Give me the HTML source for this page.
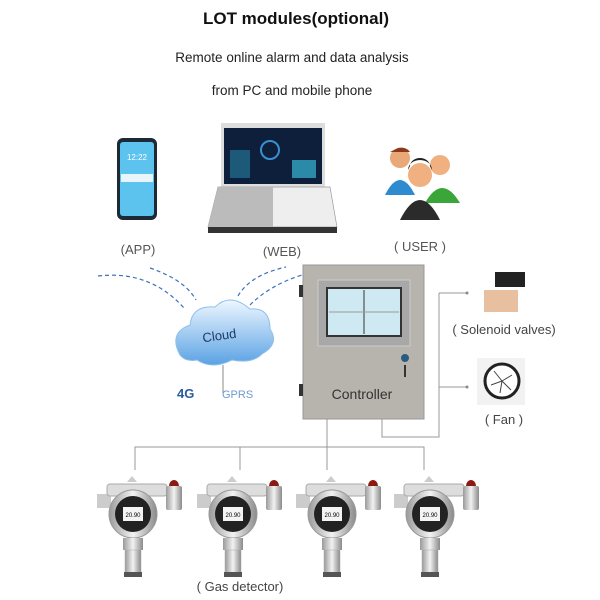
<!DOCTYPE html>
<html><head><meta charset="utf-8"><style>
body{margin:0;background:#fff}
svg{display:block;font-family:"Liberation Sans",sans-serif}
</style></head><body>
<svg width="600" height="600" viewBox="0 0 600 600">
<defs>
<linearGradient id="cl" x1="0" y1="0" x2="0" y2="1"><stop offset="0" stop-color="#eef7ff"/><stop offset="1" stop-color="#5aa2e4"/></linearGradient>
<linearGradient id="met" x1="0" y1="0" x2="1" y2="0"><stop offset="0" stop-color="#9a9a9a"/><stop offset=".5" stop-color="#f2f2f2"/><stop offset="1" stop-color="#8a8a8a"/></linearGradient>
<g id="det">
<rect x="0" y="22" width="14" height="14" fill="#ccc"/>
<path d="M30 10 l5 -6 l5 6z" fill="#ccc"/>
<rect x="10" y="12" width="60" height="12" rx="3" fill="#ddd" stroke="#aaa"/>
<rect x="69" y="14" width="16" height="24" rx="2" fill="url(#met)"/>
<path d="M72 14 a5 6 0 0 1 10 0z" fill="#8b1a12"/>
<circle cx="36" cy="42" r="24" fill="url(#met)" stroke="#999"/>
<circle cx="36" cy="42" r="18" fill="#222"/>
<rect x="26" y="35" width="20" height="14" fill="#f4f4f4"/>
<text x="36" y="45" font-size="6" text-anchor="middle" fill="#000">20.90</text>
<rect x="26" y="66" width="20" height="12" fill="url(#met)"/>
<rect x="28" y="78" width="16" height="24" fill="url(#met)" stroke="#aaa" stroke-width=".5"/>
<rect x="27" y="100" width="18" height="5" fill="#555"/>
</g>
</defs>
<text x="296" y="24" font-size="17" font-weight="bold" text-anchor="middle" fill="#111">LOT modules(optional)</text>
<text x="292" y="62" font-size="13.5" text-anchor="middle" fill="#222">Remote online alarm and data analysis</text>
<text x="292" y="95" font-size="13.5" text-anchor="middle" fill="#222">from PC and mobile phone</text>
<!-- phone -->
<rect x="117" y="138" width="40" height="82" rx="6" fill="#1c2a36"/>
<rect x="120" y="142" width="34" height="74" rx="3" fill="#5cc3ee"/>
<text x="137" y="160" font-size="8" fill="#fff" text-anchor="middle">12:22</text>
<rect x="121" y="174" width="32" height="8" fill="#e8f6fc"/>
<!-- laptop -->
<rect x="221" y="123" width="104" height="64" fill="#ddd"/>
<rect x="224" y="128" width="98" height="56" fill="#0d1f3a"/>
<rect x="230" y="150" width="20" height="28" fill="#1d5a7a"/>
<rect x="292" y="160" width="24" height="18" fill="#2a8aa8"/>
<circle cx="270" cy="150" r="9" fill="none" stroke="#3a8fd0" stroke-width="2"/>
<path d="M218 187 h112 l7 40 h-129z" fill="#eee" stroke="#999" stroke-width=".7"/>
<path d="M218 187 h55 v40 h-65z" fill="#bbb"/>
<rect x="208" y="227" width="129" height="6" fill="#333"/>
<!-- users -->
<circle cx="400" cy="158" r="10" fill="#e8a878"/><path d="M398 148 a10 8 0 0 1 12 4 l-20 0z" fill="#8a3a1a"/><path d="M385 195 q15 -30 30 0z" fill="#2e8bd0"/>
<circle cx="440" cy="165" r="10" fill="#f0b080"/><path d="M425 203 q17 -30 35 0z" fill="#3aa63a"/>
<circle cx="420" cy="175" r="12" fill="#f0b080"/><path d="M408 170 a12 10 0 0 1 24 0 l-2 -4 a10 8 0 0 0 -20 0z" fill="#222"/><path d="M400 220 q20 -40 40 0z" fill="#2b2b2b"/>
<text x="138" y="254" font-size="13" text-anchor="middle" fill="#555">(APP)</text>
<text x="282" y="256" font-size="13" text-anchor="middle" fill="#555">(WEB)</text>
<text x="420" y="251" font-size="13" text-anchor="middle" fill="#555">( USER )</text>
<!-- dashed -->
<g fill="none" stroke="#3a73b8" stroke-width="1.2" stroke-dasharray="4,3">
<path d="M98 276 Q150 270 184 308"/>
<path d="M150 268 Q185 280 196 300"/>
<path d="M238 296 Q250 275 286 267"/>
<path d="M250 305 Q270 285 302 275"/>
</g>
<!-- cloud -->
<path d="M180 355 q-12 -22 10 -30 q2 -20 25 -18 q15 -15 35 2 q20 -2 20 20 q10 15 -8 25 q-10 10 -30 6 q-20 10 -35 0 q-12 2 -17 -5z" fill="url(#cl)" stroke="#8fc0ea"/>
<text x="220" y="340" font-size="13" fill="#1f3a66" text-anchor="middle" transform="rotate(-8 220 340)">Cloud</text>
<line x1="223" y1="365" x2="223" y2="393" stroke="#888"/>
<text x="177" y="398" font-size="13" font-weight="bold" fill="#2a5aa0">4G</text>
<text x="222" y="398" font-size="11" fill="#6e9ad0">GPRS</text>
<!-- lines -->
<g stroke="#999" fill="none" stroke-width="1">
<path d="M439 293 V437 H382 V419"/>
<path d="M439 293 H466 M439 387 H466"/>
<path d="M327 419 V447 M135 470 V447 H424 V470 M240 447 V470 M327 447 V470"/>
</g>
<circle cx="467" cy="293" r="1.5" fill="#888"/><circle cx="467" cy="387" r="1.5" fill="#888"/>
<!-- controller -->
<rect x="303" y="265" width="121" height="154" fill="#b7b4ae" stroke="#999"/>
<rect x="299" y="285" width="4" height="12" fill="#333"/><rect x="299" y="384" width="4" height="12" fill="#333"/>
<rect x="318" y="280" width="92" height="66" fill="#a8a8a8" stroke="#ccc"/>
<rect x="327" y="288" width="74" height="48" fill="#cfe9f3" stroke="#333" stroke-width="2"/>
<line x1="364" y1="290" x2="364" y2="334" stroke="#333"/>
<line x1="329" y1="312" x2="399" y2="312" stroke="#999"/>
<circle cx="405" cy="358" r="4" fill="#2a5b80"/><rect x="404" y="365" width="2" height="12" fill="#333"/>
<text x="362" y="399" font-size="14" fill="#333" text-anchor="middle">Controller</text>
<!-- valve -->
<rect x="495" y="272" width="30" height="15" fill="#222"/>
<rect x="484" y="290" width="34" height="22" fill="#e8c0a0"/>
<text x="504" y="334" font-size="13" fill="#444" text-anchor="middle">( Solenoid valves)</text>
<!-- fan -->
<rect x="477" y="358" width="48" height="47" fill="#f2f2f2"/>
<circle cx="502" cy="381" r="17" fill="#fff" stroke="#222" stroke-width="3"/>
<path d="M502 381 l-8 -10 M502 381 l10 -6 M502 381 l-2 12 M502 381 l-11 4 M502 381 l9 9" stroke="#444" stroke-width="1"/>
<text x="504" y="424" font-size="13" fill="#444" text-anchor="middle">( Fan )</text>
<use href="#det" x="97" y="472"/>
<use href="#det" x="197" y="472"/>
<use href="#det" x="296" y="472"/>
<use href="#det" x="394" y="472"/>
<text x="240" y="591" font-size="13" fill="#444" text-anchor="middle">( Gas detector)</text>
</svg>
</body></html>
